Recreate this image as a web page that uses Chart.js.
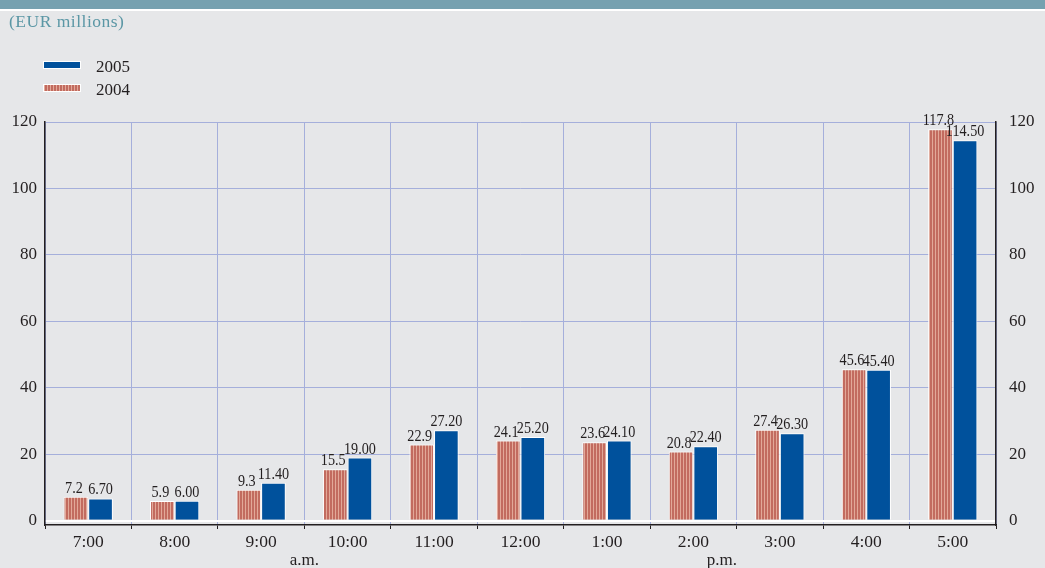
<!DOCTYPE html>
<html>
<head>
<meta charset="utf-8">
<script src="https://cdn.jsdelivr.net/npm/chart.js@4/dist/chart.umd.min.js"></script>
<style>
  html, body { margin: 0; padding: 0; background: #e6e7e9; }
  #wrap { position: relative; width: 1045px; height: 568px; }
</style>
</head>
<body>
<div id="wrap"><canvas id="c" width="1045" height="568"></canvas></div>
<script>
// Hourly values, EUR millions
const hours = ['7:00', '8:00', '9:00', '10:00', '11:00', '12:00', '1:00', '2:00', '3:00', '4:00', '5:00'];
const values2004 = [7.2, 5.9, 9.3, 15.5, 22.9, 24.1, 23.6, 20.8, 27.4, 45.6, 117.8];
const values2005 = [6.70, 6.00, 11.40, 19.00, 27.20, 25.20, 24.10, 22.40, 26.30, 45.40, 114.50];
const yTicks = [0, 20, 40, 60, 80, 100, 120];

const SERIF = '"Liberation Serif", "DejaVu Serif", serif';
const BLUE = '#00519c';
const GRID = '#a5afdb';
const INK = '#231f20';

// vertical-stripe fill for the 2004 bars
function stripePattern() {
  const p = document.createElement('canvas');
  p.width = 3; p.height = 4;
  const g = p.getContext('2d');
  g.fillStyle = '#c26b5f'; g.fillRect(0, 0, 2, 4);
  g.fillStyle = '#e2a898'; g.fillRect(2, 0, 1, 4);
  return g.createPattern(p, 'repeat');
}
const STRIPES = stripePattern();

// page furniture: header band, unit note, legend, a.m./p.m. notes, value labels
const decor = {
  id: 'decor',
  beforeDraw(chart) {
    const ctx = chart.ctx;
    ctx.save();
    ctx.fillStyle = '#e6e7e9';
    ctx.fillRect(0, 0, chart.width, chart.height);
    ctx.fillStyle = '#76a1b0';
    ctx.fillRect(0, 0, chart.width, 9);
    ctx.fillStyle = '#ffffff';
    ctx.fillRect(0, 9, chart.width, 2);
    ctx.restore();
  },
  afterDraw(chart) {
    const ctx = chart.ctx;
    ctx.save();
    ctx.font = '17.5px ' + SERIF;
    ctx.fillStyle = '#5b97a5';
    ctx.textBaseline = 'alphabetic';
    ctx.letterSpacing = '0.5px';
    ctx.fillText('(EUR millions)', 9, 27);
    ctx.letterSpacing = '0px';

    // legend
    const items = [
      { label: '2005', fill: BLUE, y: 61 },
      { label: '2004', fill: STRIPES, y: 84 }
    ];
    items.forEach(it => {
      ctx.fillStyle = '#ffffff';
      ctx.fillRect(43, it.y, 38, 8);
      ctx.fillStyle = it.fill;
      ctx.fillRect(44, it.y + 1, 36, 6);
      ctx.fillStyle = INK;
      ctx.font = '17px ' + SERIF;
      ctx.fillText(it.label, 96, it.y + 11);
    });

    // a.m. / p.m. notes under the hour axis
    const x = chart.scales.x;
    ctx.font = '17px ' + SERIF;
    ctx.textAlign = 'center';
    ctx.fillStyle = INK;
    ctx.fillText('a.m.', x.getPixelForValue(2.5), 565);
    ctx.fillText('p.m.', x.getPixelForValue(7.33), 565);

    // value labels over each bar (narrow-set figures)
    ctx.font = '16.5px ' + SERIF;
    ctx.textBaseline = 'alphabetic';
    chart.data.datasets.forEach((ds, di) => {
      const meta = chart.getDatasetMeta(di);
      meta.data.forEach((bar, i) => {
        const txt = ds.data[i].toFixed(ds.decimals);
        ctx.save();
        ctx.translate(bar.x + (di === 0 ? -2 : 0), bar.y - 4);
        ctx.scale(0.86, 1);
        ctx.fillText(txt, 0, 0);
        ctx.restore();
      });
    });
    ctx.restore();
  }
};

new Chart(document.getElementById('c'), {
  type: 'bar',
  data: {
    labels: hours,
    datasets: [
      { label: '2004', data: values2004, decimals: 1, backgroundColor: STRIPES,
        borderColor: '#ffffff', borderWidth: 1, yAxisID: 'y' },
      { label: '2005', data: values2005, decimals: 2, backgroundColor: BLUE,
        borderColor: '#ffffff', borderWidth: 1, yAxisID: 'y' }
    ]
  },
  options: {
    responsive: false,
    animation: false,
    devicePixelRatio: 1,
    layout: { padding: { top: 122, left: 0, right: 0, bottom: 0 } },
    datasets: { bar: { categoryPercentage: 0.57, barPercentage: 1.0 } },
    plugins: { legend: { display: false }, title: { display: false }, tooltip: { enabled: false } },
    scales: {
      x: {
        grid: {
          offset: true,
          color: GRID,
          lineWidth: 1,
          drawTicks: true,
          tickLength: 4,
          tickColor: INK
        },
        border: { display: true, color: INK, width: 1.5 },
        ticks: { color: INK, font: { family: SERIF, size: 17.5 }, padding: 3, maxRotation: 0 },
        afterFit(s) { s.height = 43; }
      },
      y: {
        position: 'left',
        min: -1.3, max: 120,
        afterBuildTicks(s) { s.ticks = yTicks.map(v => ({ value: v })); },
        grid: {
          color: ctx => (ctx.tick && ctx.tick.value === 0 ? '#ffffff' : GRID),
          lineWidth: ctx => (ctx.tick && ctx.tick.value === 0 ? 2 : 1),
          drawTicks: false
        },
        border: { display: true, color: INK, width: 1.5 },
        ticks: { color: INK, font: { family: SERIF, size: 17 }, padding: 8 },
        afterFit(s) { s.width = 45; }
      },
      y2: {
        position: 'right',
        min: -1.3, max: 120,
        afterBuildTicks(s) { s.ticks = yTicks.map(v => ({ value: v })); },
        grid: { display: false, drawTicks: false },
        border: { display: true, color: INK, width: 1.5 },
        ticks: { color: INK, font: { family: SERIF, size: 17 }, padding: 13 },
        afterFit(s) { s.width = 49; }
      }
    }
  },
  plugins: [decor]
});
</script>
</body>
</html>
